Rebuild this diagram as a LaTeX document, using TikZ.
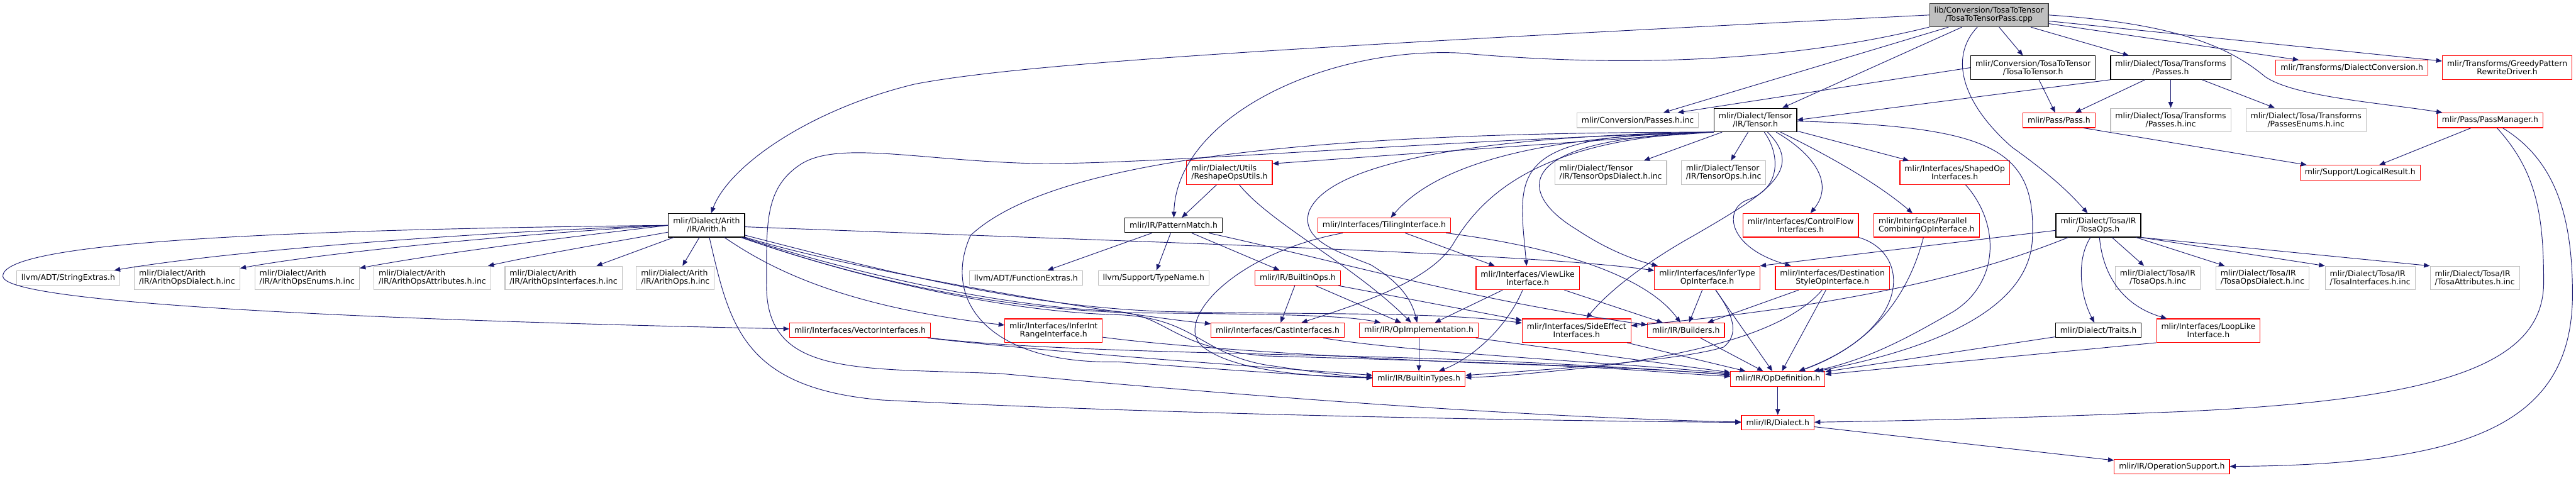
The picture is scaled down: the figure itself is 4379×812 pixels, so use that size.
\documentclass[tikz,border=0pt]{standalone}
\usepackage{fontspec}
\newfontfamily\dxfont{DejaVu Sans}
\usetikzlibrary{arrows.meta}
\definecolor{edgeblue}{HTML}{191970}
\definecolor{incgray}{HTML}{BFBFBF}
\definecolor{srcgray}{HTML}{404040}
\definecolor{trunc}{HTML}{FF0000}
\begin{document}
\begin{tikzpicture}[x=0.75pt,y=-0.75pt,
  hdr/.style={draw, fill=white, line width=0.9pt, font=\dxfont\fontsize{10pt}{10.5pt}\selectfont,
    inner xsep=6pt, inner ysep=2pt, minimum height=18.75pt, align=center},
  docbox/.style={hdr, draw=black},
  redbox/.style={hdr, draw=trunc},
  incbox/.style={hdr, draw=incgray},
  srcbox/.style={hdr, draw=srcgray, fill=incgray},
  twol/.style={minimum height=30pt},
  dep/.style={draw=edgeblue, line width=0.75pt, -{Triangle[length=7.5pt,width=6pt]}}]
  \useasboundingbox (0,0) rectangle (4379,812);
  % 第一层
  \node[srcbox,twol] (pass) at (3381,25.5) {lib/Conversion/TosaToTensor\\/TosaToTensorPass.cpp};
  \node[docbox,twol] (tosatotensor) at (3456,115) {mlir/Conversion/TosaToTensor\\/TosaToTensor.h};
  \node[docbox,twol] (tosapasses) at (3690,115) {mlir/Dialect/Tosa/Transforms\\/Passes.h};
  \node[redbox] (dialectconv) at (3998,115) {mlir/Transforms/DialectConversion.h};
  \node[redbox,twol] (greedy) at (4262,115) {mlir/Transforms/GreedyPattern\\RewriteDriver.h};
  % 第二层
  \node[incbox] (convpassesinc) at (2784,204.5) {mlir/Conversion/Passes.h.inc};
  \node[docbox,twol] (tensor) at (2984,204) {mlir/Dialect/Tensor\\/IR/Tensor.h};
  \node[redbox] (passh) at (3500,204.5) {mlir/Pass/Pass.h};
  \node[incbox,twol] (tosapassesinc) at (3690,204) {mlir/Dialect/Tosa/Transforms\\/Passes.h.inc};
  \node[incbox,twol] (passesenums) at (3920,204) {mlir/Dialect/Tosa/Transforms\\/PassesEnums.h.inc};
  \node[redbox] (passmanager) at (4233,204.5) {mlir/Pass/PassManager.h};
  % 第三层
  \node[redbox,twol,align=left] (reshape) at (2090,293.5) {mlir/Dialect/Utils\\/ReshapeOpsUtils.h};
  \node[incbox,twol,align=left] (tensordialectinc) at (2738,293.5) {mlir/Dialect/Tensor\\/IR/TensorOpsDialect.h.inc};
  \node[incbox,twol,align=left] (tensoropsinc) at (2930,293.5) {mlir/Dialect/Tensor\\/IR/TensorOps.h.inc};
  \node[redbox,twol] (shapedop) at (3323,293.5) {mlir/Interfaces/ShapedOp\\Interfaces.h};
  \node[redbox] (logicalresult) at (4012,293.5) {mlir/Support/LogicalResult.h};
  % 第四层
  \node[docbox,twol] (arith) at (1201,383) {mlir/Dialect/Arith\\/IR/Arith.h};
  \node[docbox] (patternmatch) at (1995,383) {mlir/IR/PatternMatch.h};
  \node[redbox] (tiling) at (2353,383) {mlir/Interfaces/TilingInterface.h};
  \node[redbox,twol] (controlflow) at (3061,383) {mlir/Interfaces/ControlFlow\\Interfaces.h};
  \node[redbox,twol,align=left] (parallel) at (3275,383) {mlir/Interfaces/Parallel\\CombiningOpInterface.h};
  \node[docbox,twol] (tosaops) at (3567,383) {mlir/Dialect/Tosa/IR\\/TosaOps.h};
  % 第五层
  \node[incbox] (stringextras) at (116,472.5) {llvm/ADT/StringExtras.h};
  \node[incbox,twol,align=left] (arithdialectinc) at (318,472.5) {mlir/Dialect/Arith\\/IR/ArithOpsDialect.h.inc};
  \node[incbox,twol,align=left] (arithenumsinc) at (522,472.5) {mlir/Dialect/Arith\\/IR/ArithOpsEnums.h.inc};
  \node[incbox,twol,align=left] (arithattrinc) at (735,472.5) {mlir/Dialect/Arith\\/IR/ArithOpsAttributes.h.inc};
  \node[incbox,twol,align=left] (arithifaceinc) at (958,472.5) {mlir/Dialect/Arith\\/IR/ArithOpsInterfaces.h.inc};
  \node[incbox,twol,align=left] (arithopsinc) at (1148,472.5) {mlir/Dialect/Arith\\/IR/ArithOps.h.inc};
  \node[incbox] (functionextras) at (1744,472.5) {llvm/ADT/FunctionExtras.h};
  \node[incbox] (typename) at (1961,472.5) {llvm/Support/TypeName.h};
  \node[redbox] (builtinops) at (2206,472.5) {mlir/IR/BuiltinOps.h};
  \node[redbox,twol] (viewlike) at (2597,472.5) {mlir/Interfaces/ViewLike\\Interface.h};
  \node[redbox,twol] (infertype) at (2902,472.5) {mlir/Interfaces/InferType\\OpInterface.h};
  \node[redbox,twol] (dststyle) at (3115,472.5) {mlir/Interfaces/Destination\\StyleOpInterface.h};
  \node[incbox,twol] (tosaopsinc) at (3668,472.5) {mlir/Dialect/Tosa/IR\\/TosaOps.h.inc};
  \node[incbox,twol,align=left] (tosadialectinc) at (3846,472.5) {mlir/Dialect/Tosa/IR\\/TosaOpsDialect.h.inc};
  \node[incbox,twol,align=left] (tosaifaceinc) at (4029,472.5) {mlir/Dialect/Tosa/IR\\/TosaInterfaces.h.inc};
  \node[incbox,twol,align=left] (tosaattrinc) at (4207,472.5) {mlir/Dialect/Tosa/IR\\/TosaAttributes.h.inc};
  % 第六层
  \node[redbox] (vectoriface) at (1462,561.5) {mlir/Interfaces/VectorInterfaces.h};
  \node[redbox,twol] (inferint) at (1791,562) {mlir/Interfaces/InferInt\\RangeInterface.h};
  \node[redbox] (castiface) at (2172,561.5) {mlir/Interfaces/CastInterfaces.h};
  \node[redbox] (opimpl) at (2412,561.5) {mlir/IR/OpImplementation.h};
  \node[redbox,twol] (sideeffect) at (2680,562) {mlir/Interfaces/SideEffect\\Interfaces.h};
  \node[redbox] (builders) at (2866,561.5) {mlir/IR/Builders.h};
  \node[docbox] (traits) at (3567,561.5) {mlir/Dialect/Traits.h};
  \node[redbox,twol] (looplike) at (3754,562) {mlir/Interfaces/LoopLike\\Interface.h};
  % 底部
  \node[redbox] (builtintypes) at (2412,644) {mlir/IR/BuiltinTypes.h};
  \node[redbox] (opdef) at (3022,644) {mlir/IR/OpDefinition.h};
  \node[redbox] (dialect) at (3022,718.5) {mlir/IR/Dialect.h};
  \node[redbox] (opsupport) at (3692,793.5) {mlir/IR/OperationSupport.h};

  % 源文件的依赖
  \draw[dep] (pass.west) .. controls (2300,75) and (1750,105) .. (1555,143) .. controls (1380,185) and (1240,280) .. (arith);
  \draw[dep] (pass.south west) .. controls (3000,115) and (2700,110) .. (2480,90) .. controls (2250,80) and (2000,200) .. (patternmatch);
  \draw[dep] (pass) -- (convpassesinc);
  \draw[dep] (pass) -- (tensor);
  \draw[dep] (pass) -- (tosatotensor);
  \draw[dep] (pass) -- (tosapasses);
  \draw[dep] (pass) -- (dialectconv);
  \draw[dep] (pass) -- (greedy);
  \draw[dep] (pass.east) .. controls (3700,40) and (3790,80) .. (3850,130) .. controls (3900,165) and (4050,175) .. (passmanager);
  \draw[dep] (pass) .. controls (3310,100) and (3340,180) .. (3420,250) .. controls (3490,300) and (3520,330) .. (tosaops);
  % 第一层的依赖
  \draw[dep] (tosatotensor.west) -- ([xshift=-27pt]convpassesinc.north east);
  \draw[dep] (tosatotensor) -- (passh);
  \draw[dep] (tosapasses.south west) -- (tensor.east);
  \draw[dep] (tosapasses) -- (passh);
  \draw[dep] (tosapasses) -- (tosapassesinc);
  \draw[dep] (tosapasses) -- (passesenums);
  \draw[dep] ([xshift=-15pt]passh.south east) -- ([xshift=-68pt]logicalresult.north);
  \draw[dep] (passmanager) -- (logicalresult);
  \draw[dep] (passmanager) .. controls (4310,290) and (4324,360) .. (4324,480) .. controls (4324,620) and (4150,680) .. (3700,700) .. controls (3400,712) and (3200,716) .. (dialect);
  \draw[dep] (passmanager) .. controls (4340,270) and (4373,360) .. (4373,500) .. controls (4373,720) and (4200,790) .. (opsupport);
  \draw[dep] (dialect) -- (opsupport);
  \draw[dep] (opdef) -- (dialect);
  % Tensor.h
  \draw[dep] (tensor) -- (tensordialectinc);
  \draw[dep] (tensor) -- (tensoropsinc);
  \draw[dep] (tensor) -- (shapedop);
  \draw[dep] (tensor) .. controls (3080,260) and (3120,310) .. (controlflow);
  \draw[dep] (tensor) .. controls (3100,260) and (3190,310) .. (parallel);
  \draw[dep] (tensor.south west) -- ([yshift=-4pt]reshape.north east);
  \draw[dep] (tensor.south west) .. controls (2650,230) and (2450,270) .. (tiling);
  \draw[dep] (tensor.south west) .. controls (2560,228) and (2580,290) .. (viewlike);
  \draw[dep] (tensor.south west) .. controls (2560,235) and (2580,330) .. (2680,390) .. controls (2740,430) and (2790,445) .. (infertype);
  \draw[dep] (tensor) .. controls (3070,290) and (3000,330) .. (2880,400) .. controls (2790,450) and (2730,500) .. (sideeffect);
  \draw[dep] (tensor) .. controls (3025,260) and (3030,320) .. (2970,340) .. controls (2930,355) and (2935,420) .. (dststyle);
  \draw[dep] (tensor.south west) .. controls (2620,235) and (2520,330) .. (2470,415) .. controls (2430,480) and (2300,520) .. (castiface);
  \draw[dep] (tensor.south west) .. controls (2550,230) and (2260,270) .. (2225,360) .. controls (2210,410) and (2280,430) .. (2330,450) .. controls (2380,480) and (2400,510) .. (opimpl);
  \draw[dep] (tensor.south west) .. controls (2300,225) and (1800,260) .. (1650,400) .. controls (1600,510) and (1680,620) .. (1900,615) .. controls (2100,630) and (2250,640) .. (builtintypes);
  \draw[dep] (tensor.south west) .. controls (2400,240) and (1900,285) .. (1731,277) .. controls (1550,270) and (1420,240) .. (1360,280) .. controls (1300,320) and (1303,380) .. (1303,480) .. controls (1300,640) and (1450,625) .. (1700,635) .. controls (2300,690) and (2700,712) .. (dialect);
  \draw[dep] (tensor) .. controls (3380,215) and (3460,250) .. (3455,400) .. controls (3455,520) and (3300,590) .. (opdef);
  % ReshapeOpsUtils.h, PatternMatch.h
  \draw[dep] (reshape) -- (patternmatch);
  \draw[dep] (reshape) .. controls (2160,380) and (2300,450) .. (opimpl);
  \draw[dep] (patternmatch) -- (functionextras);
  \draw[dep] (patternmatch) -- (typename);
  \draw[dep] (patternmatch) -- (builtinops);
  \draw[dep] (patternmatch) .. controls (2300,450) and (2500,510) .. (builders);
  % TilingInterface.h, BuiltinOps.h
  \draw[dep] (tiling) -- (viewlike);
  \draw[dep] (tiling) .. controls (2650,420) and (2800,470) .. (builders);
  \draw[dep] (tiling) .. controls (2100,430) and (2000,540) .. (2040,585) .. controls (2080,625) and (2200,640) .. (builtintypes);
  \draw[dep] (builtinops) -- (castiface);
  \draw[dep] (builtinops) -- (opimpl);
  \draw[dep] (builtinops) -- (sideeffect);
  % 接口
  \draw[dep] (viewlike) -- (opimpl);
  \draw[dep] (viewlike) .. controls (2560,560) and (2500,610) .. (builtintypes);
  \draw[dep] (viewlike) -- (builders);
  \draw[dep] (infertype) -- (builders);
  \draw[dep] (infertype) -- (opdef);
  \draw[dep] (infertype) .. controls (2950,540) and (2955,570) .. (2930,590) .. controls (2850,615) and (2600,630) .. (builtintypes);
  \draw[dep] (dststyle) -- (builders);
  \draw[dep] (dststyle) -- (opdef);
  \draw[dep] (dststyle) .. controls (3040,560) and (2900,600) .. (2700,625) .. controls (2600,635) and (2550,640) .. (builtintypes);
  \draw[dep] (controlflow.south east) .. controls (3250,430) and (3250,560) .. (opdef);
  \draw[dep] (parallel) .. controls (3250,480) and (3200,580) .. (opdef);
  \draw[dep] (shapedop) .. controls (3400,380) and (3400,480) .. (3320,530) .. controls (3250,570) and (3180,610) .. (opdef);
  % TosaOps.h
  \draw[dep] (tosaops) -- (tosaopsinc);
  \draw[dep] (tosaops) -- (tosadialectinc);
  \draw[dep] (tosaops.south east) -- (tosaifaceinc.north west);
  \draw[dep] (tosaops.south east) -- (tosaattrinc.north west);
  \draw[dep] (tosaops) .. controls (3530,440) and (3535,500) .. (traits);
  \draw[dep] (tosaops) .. controls (3575,470) and (3610,520) .. (looplike);
  \draw[dep] (tosaops) -- (infertype.north east);
  \draw[dep] (tosaops) .. controls (3400,450) and (3200,515) .. (sideeffect);
  \draw[dep] (traits) -- (opdef);
  \draw[dep] (looplike.south west) -- (opdef);
  % Arith.h
  \draw[dep] (arith.west) .. controls (800,395) and (400,425) .. (stringextras);
  \draw[dep] (arith.west) .. controls (850,400) and (550,430) .. (arithdialectinc);
  \draw[dep] (arith.west) .. controls (950,405) and (750,430) .. (arithenumsinc);
  \draw[dep] (arith) .. controls (1050,410) and (930,430) .. (arithattrinc);
  \draw[dep] (arith) -- (arithifaceinc);
  \draw[dep] (arith) -- (arithopsinc);
  \draw[dep] (arith.west) .. controls (500,390) and (0,410) .. (5,470) .. controls (10,525) and (900,550) .. (vectoriface);
  \draw[dep] (arith) .. controls (1240,550) and (1260,660) .. (1500,680) .. controls (2000,705) and (2600,715) .. (dialect);
  \draw[dep] (arith) .. controls (1300,450) and (1420,520) .. (inferint);
  \draw[dep] (arith) .. controls (1450,460) and (1900,535) .. (castiface);
  \draw[dep] (arith) .. controls (1900,410) and (2600,430) .. (infertype);
  \draw[dep] (arith) .. controls (1450,470) and (1700,530) .. (1950,532) .. controls (2150,534) and (2280,535) .. (opimpl);
  \draw[dep] (arith) .. controls (1500,460) and (1750,525) .. (2000,530) .. controls (2250,535) and (2450,530) .. (sideeffect);
  \draw[dep] (arith) .. controls (1450,470) and (1700,530) .. (1900,535) .. controls (2030,540) and (2040,600) .. (2150,620) .. controls (2230,632) and (2290,640) .. (builtintypes);
  \draw[dep] (arith) .. controls (1450,465) and (1700,520) .. (1880,528) .. controls (1990,532) and (1980,590) .. (2150,605) .. controls (2500,615) and (2800,625) .. (opdef);
  % 其余
  \draw[dep] (vectoriface) .. controls (1800,600) and (2100,620) .. (builtintypes);
  \draw[dep] (vectoriface.south east) .. controls (1800,600) and (2200,600) .. (2500,612) .. controls (2700,620) and (2850,630) .. (opdef);
  \draw[dep] (inferint) .. controls (2000,590) and (2300,610) .. (2600,620) .. controls (2750,625) and (2850,635) .. (opdef);
  \draw[dep] (castiface) .. controls (2400,600) and (2800,620) .. (opdef);
  \draw[dep] (opimpl) -- (builtintypes);
  \draw[dep] (opimpl) -- (opdef);
  \draw[dep] (sideeffect) -- (opdef);
  \draw[dep] (builders) -- (opdef);
\end{tikzpicture}
\end{document}
